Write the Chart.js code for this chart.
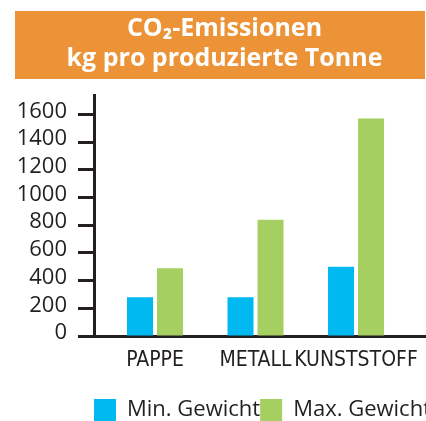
<!DOCTYPE html>
<html>
<head>
<meta charset="utf-8">
<script src="https://cdn.jsdelivr.net/npm/chart.js@4/dist/chart.umd.min.js"></script>
<style>
  body { margin: 0; background: #fff; }
  #wrap { width: 426px; height: 421px; overflow: hidden; position: relative; }
  #myChart { position: absolute; left: 0; top: 0; }
</style>
</head>
<body>
<div id="wrap"><canvas id="myChart" width="449" height="431"></canvas></div>
<script>
// Werte
var kategorien = ["PAPPE", "METALL", "KUNSTSTOFF"];
var minGewicht = [280, 280, 500];
var maxGewicht = [490, 840, 1570];
var serien = ["Min. Gewicht", "Max. Gewicht"];
var yTicks = [0, 200, 400, 600, 800, 1000, 1200, 1400, 1600];
var titel = ["CO\u2082-Emissionen", "kg pro produzierte Tonne"];

var dunkel = "#231f20";

// orange Kasten hinter dem Titel
var titelKasten = {
  id: "titelKasten",
  beforeDraw: function (chart) {
    var ctx = chart.ctx;
    ctx.save();
    ctx.fillStyle = "#ec9237";
    ctx.fillRect(15, 11, 410, 68);
    ctx.restore();
  }
};

var ctx = document.getElementById("myChart");

var myChart = new Chart(ctx, {
  type: "bar",
  data: {
    datasets: [
      {
        label: serien[0],
        data: minGewicht.map(function (v, i) { return { x: i, y: v }; }),
        backgroundColor: "#00b9f1",
        borderWidth: 0
      },
      {
        label: serien[1],
        data: maxGewicht.map(function (v, i) { return { x: i, y: v }; }),
        backgroundColor: "#a5cf61",
        borderWidth: 0
      }
    ]
  },
  options: {
    responsive: false,
    animation: false,
    categoryPercentage: 0.597,
    barPercentage: 0.867,
    layout: { padding: 0 },
    plugins: {
      tooltip: { enabled: false },
      title: {
        display: true,
        text: titel,
        color: "#ffffff",
        font: { family: "'Open Sans'", size: 25, weight: "bold", lineHeight: 1.2 },
        padding: { top: 14, bottom: 21 }
      },
      legend: {
        position: "bottom",
        align: "start",
        fullSize: false,
        labels: {
          boxWidth: 22,
          boxHeight: 22,
          padding: 0,
          color: dunkel,
          font: { family: "'Open Sans'", size: 22 }
        }
      }
    },
    scales: {
      x: {
        type: "linear",
        offset: false,
        bounds: "data",
        min: -0.607,
        max: 2.925,
        afterBuildTicks: function (scale) {
          scale.ticks = kategorien.map(function (k, i) { return { value: i }; });
        },
        afterFit: function (scale) { scale.height = 63; },
        grid: { display: false, drawTicks: false, offset: false },
        border: { display: true, color: dunkel, width: 3 },
        ticks: {
          autoSkip: false,
          maxRotation: 0,
          padding: 12,
          color: dunkel,
          font: { family: "'Liberation Sans Narrow', 'DejaVu Sans Condensed', sans-serif", size: 21 },
          callback: function (value) { return kategorien[value]; }
        }
      },
      y: {
        bounds: "data",
        min: 0,
        max: 1740,
        afterBuildTicks: function (scale) {
          scale.ticks = yTicks.map(function (v) { return { value: v }; });
        },
        afterFit: function (scale) { scale.width = 94; },
        grid: {
          drawOnChartArea: false,
          drawTicks: true,
          tickLength: 16,
          tickWidth: 3,
          tickColor: dunkel
        },
        border: { display: true, color: dunkel, width: 3 },
        ticks: {
          autoSkip: false,
          padding: 11,
          labelOffset: -3,
          color: dunkel,
          font: { family: "'Open Sans'", size: 22 },
          callback: function (value) { return String(value); }
        }
      }
    }
  },
  plugins: [titelKasten]
});
</script>
</body>
</html>
